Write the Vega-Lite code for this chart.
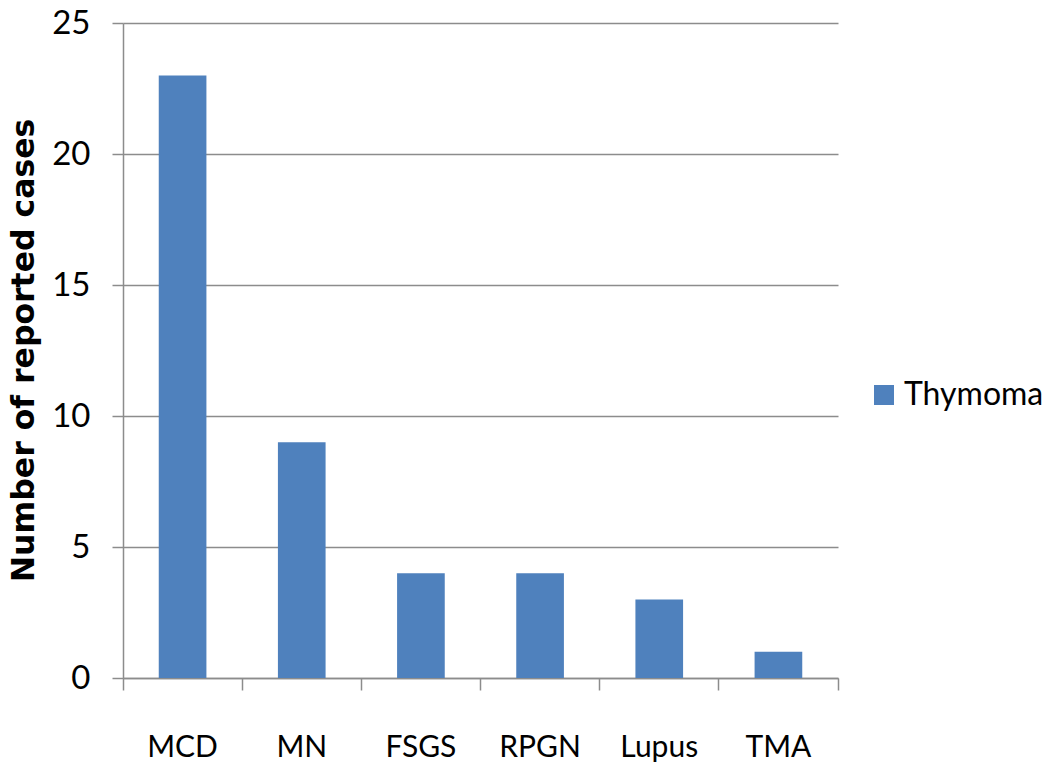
{
  "$schema": "https://vega.github.io/schema/vega-lite/v6.json",
  "autosize": {"type": "none"},
  "width": 715,
  "height": 655,
  "padding": {"left": 123, "top": 23, "right": 212, "bottom": 95},
  "background": "white",
  "data": {"values": [
    {"disease": "MCD", "cases": 23, "series": "Thymoma"},
    {"disease": "MN", "cases": 9, "series": "Thymoma"},
    {"disease": "FSGS", "cases": 4, "series": "Thymoma"},
    {"disease": "RPGN", "cases": 4, "series": "Thymoma"},
    {"disease": "Lupus", "cases": 3, "series": "Thymoma"},
    {"disease": "TMA", "cases": 1, "series": "Thymoma"}
  ]},
  "config": {"view": {"stroke": null}, "font": "Lato"},
  "mark": {"type": "bar", "color": "#4F81BD", "width": {"band": 0.4}},
  "encoding": {
    "x": {
      "field": "disease", "type": "nominal", "sort": null,
      "scale": {"paddingInner": 0, "paddingOuter": 0},
      "axis": {
        "title": null, "labelAngle": 0, "bandPosition": 1, "tickExtra": true,
        "domainColor": "#8c8c8c", "domainWidth": 1.5,
        "tickColor": "#8c8c8c", "tickSize": 12, "tickWidth": 1.5,
        "labelFont": "Lato", "labelFontSize": 30, "labelColor": "black",
        "labelPadding": 42, "labelBaseline": "top"
      }
    },
    "y": {
      "field": "cases", "type": "quantitative",
      "scale": {"domain": [0, 25]},
      "axis": {
        "values": [0, 5, 10, 15, 20, 25],
        "title": "Number of reported cases",
        "titleFont": "DejaVu Sans", "titleFontSize": 31.5, "titleFontWeight": "bold", "titleColor": "black",
        "titleAngle": -90, "titleX": -90, "titleY": 327, "titleAlign": "center", "titleBaseline": "alphabetic",
        "grid": true, "gridColor": "#8c8c8c", "gridWidth": 1.5,
        "domainColor": "#8c8c8c", "domainWidth": 1.5,
        "tickColor": "#8c8c8c", "tickSize": 11, "tickWidth": 1.5,
        "labelFont": "Lato", "labelFontSize": 33, "labelColor": "black", "labelPadding": 22
      }
    },
    "color": {
      "field": "series", "type": "nominal",
      "scale": {"range": ["#4F81BD"]},
      "legend": {
        "title": null, "orient": "none", "legendX": 745, "legendY": 356,
        "symbolType": "square", "symbolSize": 400, "symbolStrokeWidth": 0,
        "labelFont": "Lato", "labelFontSize": 32, "labelColor": "black", "labelOffset": 4
      }
    }
  }
}
